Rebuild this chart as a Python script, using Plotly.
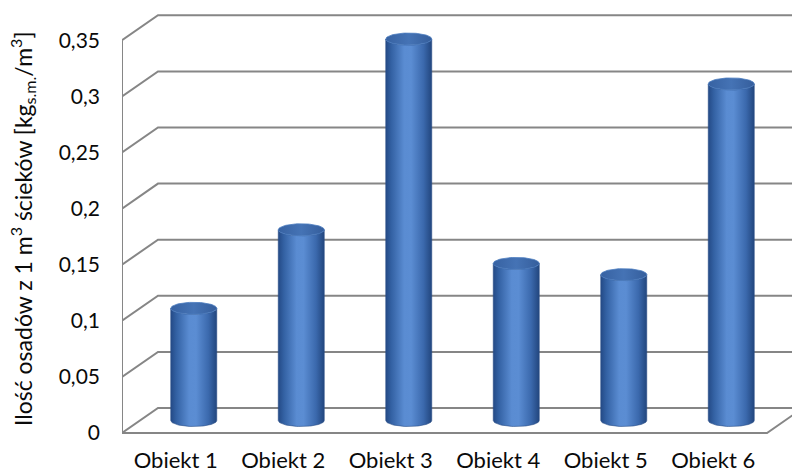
import numpy as np
import plotly.graph_objects as go

# Data
categories = ["Obiekt 1", "Obiekt 2", "Obiekt 3", "Obiekt 4", "Obiekt 5", "Obiekt 6"]
values = [0.10, 0.17, 0.34, 0.14, 0.13, 0.30]
y_ticks = [0, 0.05, 0.10, 0.15, 0.20, 0.25, 0.30, 0.35]
y_tick_text = ["0", "0,05", "0,1", "0,15", "0,2", "0,25", "0,3", "0,35"]
y_title = "Ilość osadów z 1 m<sup>3</sup> ścieków [kg<sub>s.m.</sub>/m<sup>3</sup>]"

# Pseudo-3D geometry (in axis units)
PX_X = 107.5          # pixels per category
PX_Y = 1122.0         # pixels per unit of value
DX = 36 / PX_X        # depth shift to the right
DY = 25 / PX_Y        # depth shift upwards
RX = 23 / PX_X        # cylinder radius
RY = 6 / PX_Y         # ellipse half-height
X0, X1 = -0.5, len(categories) - 0.5
W, H = 792, 475
ML, MB = 122, 38
ZERO_PX = 433         # vertical pixel of the front zero line
XMAX = X0 + (W - ML) / PX_X
YMIN = -((H - MB) - ZERO_PX) / PX_Y
YMAX = ZERO_PX / PX_Y

GRID = "#868686"

fig = go.Figure()

# back wall gridlines with the side diagonals
gx, gy = [], []
for v in y_ticks:
    gx += [X0, X0 + DX, XMAX + 1, None]
    gy += [v, v + DY, v + DY, None]
fig.add_trace(go.Scatter(x=gx, y=gy, mode="lines",
                         line=dict(color=GRID, width=2), hoverinfo="skip"))

# front vertical axis
fig.add_trace(go.Scatter(x=[X0, X0], y=[0, max(y_ticks)], mode="lines",
                         line=dict(color=GRID, width=2), hoverinfo="skip"))

# floor front edge and right side
fig.add_trace(go.Scatter(x=[X0, X1, X1 + DX], y=[0, 0, DY], mode="lines",
                         line=dict(color=GRID, width=2), hoverinfo="skip"))

body_scale = [[0.0, "#244a86"], [0.12, "#3361a3"], [0.4, "#5a8cd2"],
              [0.55, "#5b8dd3"], [0.82, "#3b69ad"], [1.0, "#22467e"]]
top_scale = [[0.0, "#3762a2"], [0.5, "#4573b5"], [1.0, "#355e9c"]]

t_front = np.linspace(np.pi, 2 * np.pi, 40)   # lower (front) half of ellipse
t_full = np.linspace(0, 2 * np.pi, 80)

for i, v in enumerate(values):
    cx = i + DX / 2
    base = DY / 2
    top = v + DY / 2
    # body outline: left side up, front rim of the top, right side down, bottom rim
    top_arc_x = cx + RX * np.cos(t_front)
    top_arc_y = top + RY * np.sin(t_front)
    bot_arc_x = cx + RX * np.cos(t_front[::-1])
    bot_arc_y = base + RY * np.sin(t_front[::-1])
    bx = np.concatenate([[cx - RX, cx - RX], top_arc_x, [cx + RX, cx + RX], bot_arc_x])
    by = np.concatenate([[base, top], top_arc_y, [top, base], bot_arc_y])
    fig.add_trace(go.Scatter(
        x=bx, y=by, mode="lines", fill="toself",
        line=dict(width=0.6, color="#284d87"),
        fillgradient=dict(type="horizontal", colorscale=body_scale),
        hoverinfo="skip"))
    # top cap
    fig.add_trace(go.Scatter(
        x=cx + RX * np.cos(t_full), y=top + RY * np.sin(t_full),
        mode="lines", fill="toself",
        line=dict(width=0.8, color="#4b7cbf"),
        fillgradient=dict(type="horizontal", colorscale=top_scale),
        hoverinfo="skip"))

fig.update_layout(
    width=W, height=H,
    margin=dict(l=ML, r=0, t=0, b=MB),
    paper_bgcolor="white", plot_bgcolor="white",
    showlegend=False,
    font=dict(family="Lato", size=21, color="#0a0a0a"),
    xaxis=dict(range=[X0, XMAX], showgrid=False, zeroline=False, showline=False,
               tickmode="array", tickvals=list(range(len(categories))),
               ticktext=categories, ticks="", ticklabelstandoff=8,
               tickfont=dict(size=22), fixedrange=True),
    yaxis=dict(range=[YMIN, YMAX], showgrid=False, zeroline=False, showline=False,
               tickmode="array", tickvals=y_ticks, ticktext=y_tick_text,
               ticks="", ticklabelstandoff=21, fixedrange=True),
    annotations=[dict(text=y_title, textangle=-90, showarrow=False,
                      xref="paper", yref="paper",
                      x=(22 - ML) / (W - ML), y=(H - MB - 229) / (H - MB),
                      xanchor="center", yanchor="middle",
                      font=dict(family="Lato", size=23, color="#0a0a0a"))],
)

fig.write_html("out.html")
